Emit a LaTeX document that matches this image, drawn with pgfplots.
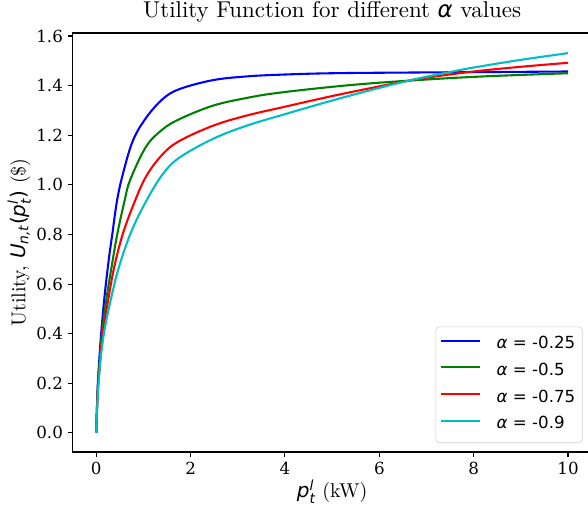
\documentclass[border=0pt]{standalone}
\usepackage{fontspec}
\usepackage{amsmath}
\usepackage{pgfplots}
\pgfplotsset{compat=1.18}
\setmainfont[Extension=.otf, ItalicFont=lmroman10-italic]{lmroman10-regular}
\newfontfamily\djs{DejaVu Sans}
\newfontfamily\djserif{DejaVu Serif}
\newcommand\dm[1]{\text{\djs\itshape #1}}
\newcommand\du[1]{\text{\djs #1}}
\definecolor{mplgreen}{rgb}{0,0.5,0}
\definecolor{mplcyan}{rgb}{0,0.75,0.75}
\begin{document}
\begin{tikzpicture}
\useasboundingbox (0,0) rectangle (423.4pt,365.8pt);
\begin{axis}[
  at={(52.3pt,40.3pt)}, anchor=south west,
  width=373.7pt, height=301.7pt, scale only axis,
  xmin=-0.5, xmax=10.5, ymin=-0.077, ymax=1.612,
  xtick={0,2,4,6,8,10},
  ytick={0,0.2,0.4,0.6,0.8,1.0,1.2,1.4,1.6},
  yticklabel style={/pgf/number format/.cd, fixed, fixed zerofill, precision=1},
  /pgf/number format/assume math mode=true,
  tick label style={font=\fontsize{12}{14}\djserif},
  tick pos=left, tick align=outside, major tick length=3.5pt,
  every tick/.style={black, line width=0.8pt},
  axis line style={line width=0.8pt},
  title={Utility Function for different \dm{α} values},
  title style={font=\fontsize{16.5}{19}\selectfont, yshift=-2pt},
  xlabel={\(\dm{p}_{\dm{t}}^{\dm{l}}\) (kW)},
  ylabel={Utility, \(\dm{U}_{\dm{n,t}}\du{(}\dm{p}_{\dm{t}}^{\dm{l}}\du{)}\) (\$)},
  label style={font=\fontsize{14.4}{17}\selectfont},
  xlabel style={yshift=3pt},
  ylabel style={yshift=-3pt},
  legend style={at={(1,0)}, anchor=south east, xshift=-6.5pt, yshift=6.5pt,
    draw=black!20, rounded corners=2.5pt, fill=white,
    font=\fontsize{12}{14}\djs, inner xsep=3pt, inner ysep=3.3pt, row sep=0pt,
    nodes={text height=9pt, text depth=3pt, inner ysep=3.6pt},
    /tikz/every odd column/.append style={column sep=9.3pt}},
  legend cell align=left,
  legend image code/.code={\draw[#1, line width=1.5pt] (0pt,3pt) -- (28pt,3pt);},
  every axis plot/.append style={line width=1.5pt, line join=round, smooth, tension=0.6},
]
\addplot[blue] coordinates {
(0,0) (0.03,0.18) (0.06,0.28) (0.105,0.40) (0.176,0.55) (0.267,0.70) (0.34,0.80)
(0.44,0.935) (0.56,1.04) (0.775,1.177) (1.06,1.271) (1.41,1.346) (1.765,1.386)
(2.47,1.422) (3.18,1.437) (3.88,1.444) (5,1.450) (6.78,1.453) (8.5,1.455) (10,1.457)};
\addlegendentry{\dm{α} = -0.25\hspace{3.6pt}}
\addplot[mplgreen] coordinates {
(0,0) (0.03,0.17) (0.07,0.28) (0.12,0.40) (0.21,0.532) (0.324,0.667) (0.445,0.80)
(0.6,0.935) (0.72,1.02) (1.06,1.155) (1.41,1.224) (1.765,1.265) (2.47,1.319)
(3.18,1.350) (3.9,1.372) (5.37,1.402) (6.78,1.422) (8.19,1.437) (10,1.450)};
\addlegendentry{\dm{α} = -0.5}
\addplot[red] coordinates {
(0,0) (0.03,0.16) (0.075,0.27) (0.13,0.39) (0.25,0.532) (0.38,0.667) (0.56,0.80)
(0.8,0.925) (1.06,1.035) (1.41,1.124) (1.765,1.177) (2.47,1.238) (3.18,1.279)
(4,1.315) (5,1.358) (6,1.397) (6.6,1.419) (7,1.432) (8,1.457) (9,1.476) (10,1.492)};
\addlegendentry{\dm{α} = -0.75}
\addplot[mplcyan] coordinates {
(0,0) (0.02,0.10) (0.05,0.20) (0.1,0.31) (0.18,0.42) (0.318,0.545) (0.479,0.667)
(0.74,0.81) (1.06,0.935) (1.41,1.043) (1.765,1.110) (2.47,1.185) (3.18,1.238)
(4,1.285) (5,1.34) (6,1.391) (6.6,1.419) (7,1.436) (7.5,1.455) (8,1.473) (9,1.504) (10,1.531)};
\addlegendentry{\dm{α} = -0.9}
\end{axis}
\end{tikzpicture}
\end{document}
